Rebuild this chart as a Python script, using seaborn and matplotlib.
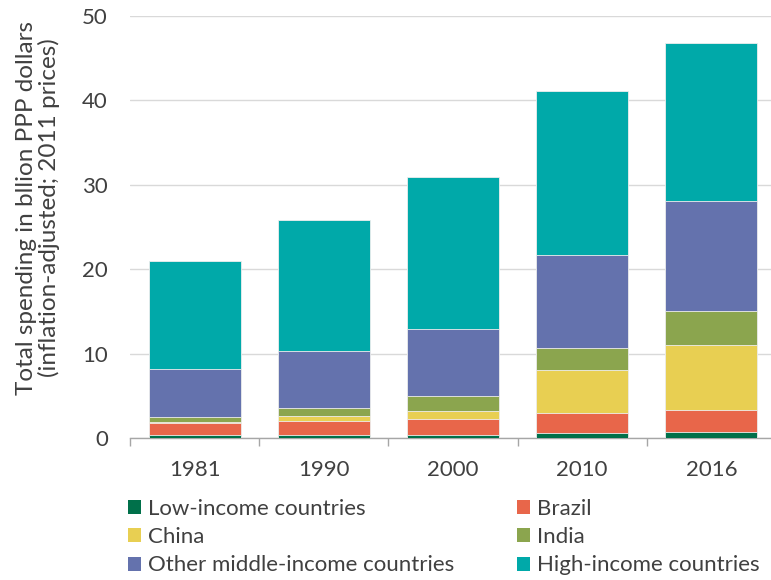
import numpy as np
import pandas as pd
import matplotlib
matplotlib.use("Agg")
import matplotlib.pyplot as plt
from matplotlib.patches import Patch
import seaborn as sns

years = ["1981", "1990", "2000", "2010", "2016"]
low_income = [0.35, 0.35, 0.40, 0.55, 0.75]
brazil = [1.45, 1.70, 1.80, 2.45, 2.60]
china = [0.15, 0.60, 1.00, 5.00, 7.70]
india = [0.55, 0.90, 1.75, 2.70, 4.00]
other_middle = [5.70, 6.80, 7.95, 11.00, 13.05]
high_income = [12.80, 15.50, 18.00, 19.40, 18.70]

series_names = ["Low-income countries", "Brazil", "China", "India",
                "Other middle-income countries", "High-income countries"]
series_values = [low_income, brazil, china, india, other_middle, high_income]
colors = ["#00704a", "#e8664a", "#e8cf52", "#8ba54e", "#6472ad", "#00a9a9"]

sns.set_theme(style="white")
plt.rcParams["font.family"] = ["Lato", "DejaVu Sans"]
text_color = "#404040"
fs = 16

fig = plt.figure(figsize=(7.71, 5.80), dpi=100)
ax = fig.add_axes([130 / 771, 142 / 580, 646 / 771, 422 / 580])

# Stacked bars: draw cumulative totals from the top layer down
cum = np.cumsum(np.array(series_values), axis=0)
for i in range(len(series_names) - 1, -1, -1):
    df = pd.DataFrame({"year": years, "value": cum[i]})
    sns.barplot(data=df, x="year", y="value", color=colors[i], ax=ax,
                width=0.712, edgecolor="#eeeeee", linewidth=0.6,
                saturation=1, zorder=3)

ax.set_ylim(0, 50)
ax.set_xlim(-0.5, 4.5)
ax.set_yticks([0, 10, 20, 30, 40, 50])
ax.yaxis.grid(True, color="#d9d9d9", linewidth=1.0, zorder=0)
ax.set_axisbelow(True)
for s in ["top", "right", "left"]:
    ax.spines[s].set_visible(False)
ax.spines["bottom"].set_color("#a6a6a6")
ax.spines["bottom"].set_linewidth(1.0)

# tick marks between categories on the x axis
ax.set_xticks(range(len(years)))
ax.set_xticklabels(years)
ax.set_xticks(np.arange(-0.5, len(years), 1.0), minor=True)
ax.tick_params(axis="x", which="major", length=0, pad=16, labelsize=fs,
               labelcolor=text_color)
ax.tick_params(axis="x", which="minor", length=6, width=1.0,
               color="#a6a6a6", bottom=True)
ax.tick_params(axis="y", length=0, pad=16, labelsize=fs, labelcolor=text_color)

ax.set_xlabel("")
ax.set_ylabel("Total spending in bllion PPP dollars\n(inflation-adjusted; 2011 prices)",
              fontsize=17.5, color=text_color, linespacing=1.05)
ax.yaxis.set_label_coords(-0.108, 0.546)

# legend: two columns, filled row by row
order = [0, 2, 4, 1, 3, 5]
handles = [Patch(facecolor=colors[i], edgecolor="none", label=series_names[i])
           for i in order]
fig.legend(handles=handles, loc="upper left", bbox_to_anchor=(128 / 771, 1 - 499 / 580),
           ncol=2, frameon=False, fontsize=fs, labelcolor=text_color,
           handlelength=0.6, handleheight=0.6, handletextpad=0.32,
           columnspacing=2.8, labelspacing=0.37, borderaxespad=0, borderpad=0)

fig.savefig("out.png", dpi=100)
